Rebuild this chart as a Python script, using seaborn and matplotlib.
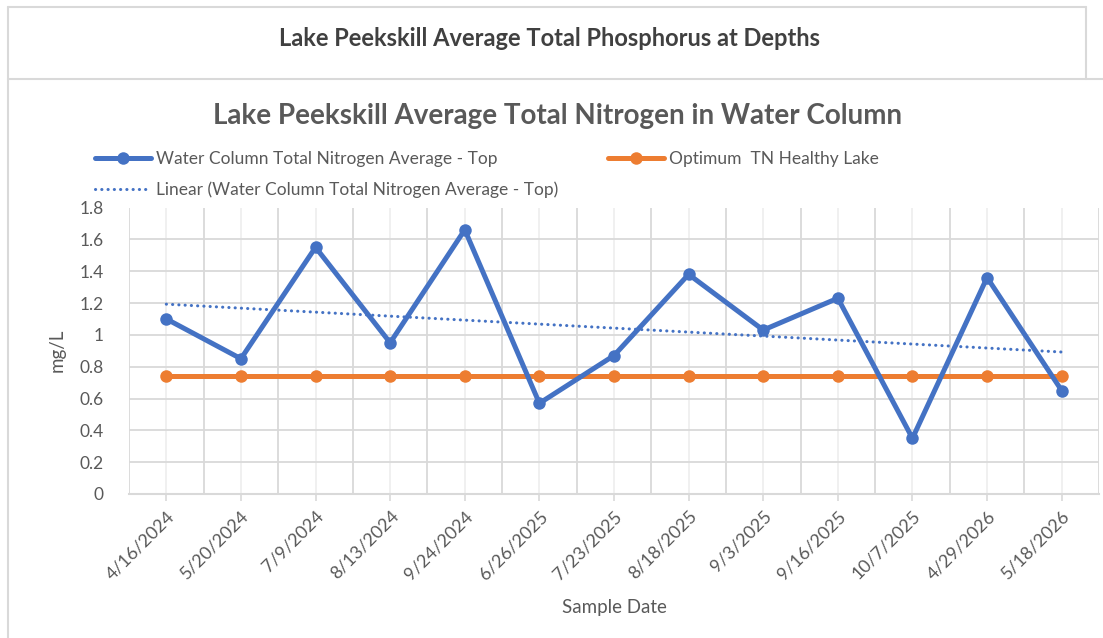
import numpy as np
import pandas as pd
import seaborn as sns
from matplotlib import pyplot as plt
from matplotlib.lines import Line2D

dates = ["4/16/2024", "5/20/2024", "7/9/2024", "8/13/2024", "9/24/2024", "6/26/2025",
         "7/23/2025", "8/18/2025", "9/3/2025", "9/16/2025", "10/7/2025", "4/29/2026", "5/18/2026"]
tn_top = [1.10, 0.85, 1.55, 0.95, 1.66, 0.57, 0.87, 1.38, 1.03, 1.23, 0.35, 1.36, 0.65]
tn_optimum = [0.74] * len(dates)
yticks = [0, 0.2, 0.4, 0.6, 0.8, 1, 1.2, 1.4, 1.6, 1.8]

BLUE = "#4472C4"
ORANGE = "#ED7D31"
GREY_TXT = "#595959"
GRID = "#d9d9d9"
DOTS = (0, (0.05, 2.0))

sns.set_theme(style="white")
plt.rcParams["font.family"] = ["Lato", "DejaVu Sans"]

df = pd.DataFrame({"pos": np.arange(len(dates)), "date": dates,
                   "top": tn_top, "opt": tn_optimum})

fig = plt.figure(figsize=(11.03, 6.38), dpi=100)
ax = fig.add_axes([129 / 1103, 1 - 494 / 638, (1099 - 129) / 1103, (494 - 207.5) / 638])

sns.lineplot(data=df, x="pos", y="top", ax=ax, color=BLUE, lw=3.6, marker="o",
             markersize=9, markeredgewidth=0, zorder=4, sort=False)
sns.lineplot(data=df, x="pos", y="opt", ax=ax, color=ORANGE, lw=3.6, marker="o",
             markersize=9, markeredgewidth=0, zorder=3, sort=False)
sns.regplot(data=df, x="pos", y="top", ax=ax, scatter=False, ci=None, truncate=True,
            line_kws=dict(color=BLUE, lw=2.2, ls=DOTS, dash_capstyle="round", zorder=2))

ax.set_xlim(-0.5, len(dates) - 0.5)
ax.set_ylim(0, 1.8)
ax.set_yticks(yticks)
ax.set_yticklabels([f"{v:g}" for v in yticks])
ax.set_xticks(df["pos"])
ax.set_xticklabels(dates, rotation=45, ha="right", rotation_mode="anchor")

# gridlines: major between categories, light at category centres
ax.set_xticks(np.arange(-0.5, len(dates), 1), minor=True)
ax.grid(axis="y", color=GRID, lw=1.3)
ax.grid(axis="x", which="minor", color=GRID, lw=1.3)
ax.grid(axis="x", which="major", color="#efefef", lw=1.3)
ax.set_axisbelow(True)
for side in ["left", "right", "top"]:
    ax.spines[side].set_visible(False)
ax.spines["bottom"].set_color(GRID)
ax.spines["bottom"].set_linewidth(1.5)
ax.tick_params(axis="x", which="major", bottom=True, length=5, width=1.2, color=GRID,
               labelsize=13, labelcolor=GREY_TXT, pad=5)
ax.tick_params(axis="x", which="minor", bottom=False)
ax.tick_params(axis="y", left=False, labelsize=12.5, labelcolor=GREY_TXT, pad=12)

ax.set_xlabel("Sample Date", fontsize=13.5, color=GREY_TXT, labelpad=12)
ax.set_ylabel("mg/L", fontsize=13.5, color=GREY_TXT, labelpad=10)

fig.text(0.505, 1 - 116 / 638, "Lake Peekskill Average Total Nitrogen in Water Column",
         ha="center", va="center", fontsize=20, fontweight="bold", color=GREY_TXT)
fig.text(0.498, 1 - 38 / 638, "Lake Peekskill Average Total Phosphorus at Depths",
         ha="center", va="center", fontsize=17, fontweight="bold", color="#404040")

handles = [
    Line2D([], [], color=BLUE, lw=3.6, marker="o", markersize=9, markeredgewidth=0),
    Line2D([], [], color=BLUE, lw=2.2, ls=DOTS, dash_capstyle="round"),
    Line2D([], [], color=ORANGE, lw=3.6, marker="o", markersize=9, markeredgewidth=0),
]
labels = ["Water Column Total Nitrogen Average - Top",
          "Linear (Water Column Total Nitrogen Average - Top)",
          "Optimum  TN Healthy Lake"]
fig.legend(handles, labels, ncol=2, loc="upper left", bbox_to_anchor=(88 / 1103, 1 - 144 / 638),
           frameon=False, fontsize=12.5, labelcolor=GREY_TXT, handlelength=3.2,
           handletextpad=0.3, columnspacing=2.9, labelspacing=0.85, borderaxespad=0)

# screenshot frames
def fline(x0, y0, x1, y1):
    fig.add_artist(Line2D([x0 / 1103, x1 / 1103], [1 - y0 / 638, 1 - y1 / 638],
                          color=GRID, lw=1.5, transform=fig.transFigure))

fline(8, 7, 1086, 7)
fline(8, 7, 8, 638)
fline(1086, 7, 1086, 79)
fline(8, 79, 1103, 79)

fig.savefig("out.png", dpi=100, facecolor="white")
